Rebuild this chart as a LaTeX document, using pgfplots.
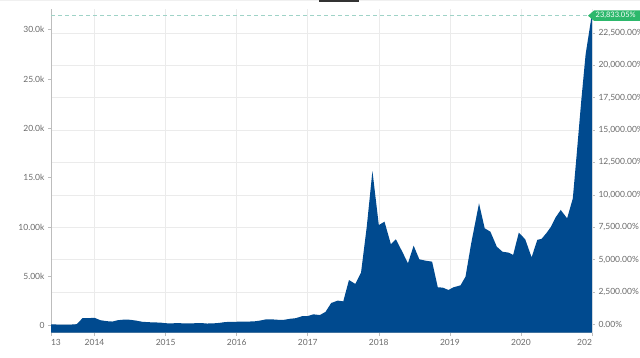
\documentclass[border=0pt]{standalone}
\usepackage{fontspec}
\setmainfont{Lato}
\usepackage{pgfplots}
\pgfplotsset{compat=1.18}
\definecolor{btcblue}{HTML}{004A8F}
\definecolor{tickgray}{HTML}{6B6B6B}
\definecolor{gridgray}{HTML}{EBEBEB}
\definecolor{axisgray}{HTML}{BDBDBD}
\definecolor{dashteal}{HTML}{9FD3C7}
\definecolor{labelgreen}{HTML}{2DB86C}
\pgfplotsset{
  common/.style={
    at={(51pt,24.3pt)}, anchor=south west, scale only axis,
    width=541pt, height=323.4pt,
    xmin=2013.387, xmax=2021.0,
    axis line style={axisgray, line width=0.6pt},
    tick style={axisgray, line width=0.6pt},
    major tick length=3pt, tick align=outside,
    tick label style={font=\fontsize{8.5}{10}\selectfont, text=tickgray},
    /pgf/number format/assume math mode=true,
    grid style={gridgray, line width=0.6pt},
  }
}
\begin{document}
\begin{tikzpicture}[x=1pt,y=1pt]
% top decoration
\fill[black!6] (0,356) rectangle (640,357);
\fill[black!80] (319,355.2) rectangle (359,357);
% right (percentage) axis with horizontal grid
\begin{axis}[common,
  ymin=-640.75, ymax=24325,
  axis x line=none, axis y line*=right,
  ytick={0,2500,5000,7500,10000,12500,15000,17500,20000,22500},
  yticklabels={{0.00\%},{2,500.00\%},{5,000.00\%},{7,500.00\%},{10,000.00\%},{12,500.00\%},{15,000.00\%},{17,500.00\%},{20,000.00\%},{22,500.00\%}},
  ymajorgrids,
]
\end{axis}
% main axis
\begin{axis}[common,
  ymin=-710, ymax=32070,
  axis x line*=bottom, axis y line*=left,
  xtick={2013.387,2014,2015,2016,2017,2018,2019,2020,2021},
  xticklabels={\makebox[0pt][l]{13},2014,2015,2016,2017,2018,2019,2020,\makebox[0pt][r]{202}},
  xmajorgrids,
  ytick={0,5000,10000,15000,20000,25000,30000},
  yticklabels={0,5.00k,10.00k,15.0k,20.0k,25.0k,30.0k},
]
\addplot[fill=btcblue, draw=none] coordinates {
(2013.387,-710) (2013.387,131) (2013.47,120) (2013.55,100) (2013.63,105) (2013.71,130) (2013.75,160)
(2013.83,760) (2013.92,770) (2014.00,800) (2014.08,560) (2014.17,460) (2014.25,420)
(2014.33,560) (2014.42,620) (2014.50,600) (2014.58,520) (2014.67,400) (2014.75,360)
(2014.83,330) (2014.92,320) (2015.00,250) (2015.08,240) (2015.17,260) (2015.25,240)
(2015.33,240) (2015.42,250) (2015.50,270) (2015.58,220) (2015.67,235) (2015.75,280)
(2015.83,360) (2015.92,400) (2016.00,400) (2016.08,410) (2016.17,420) (2016.25,440)
(2016.33,520) (2016.42,650) (2016.50,640) (2016.58,600) (2016.67,600) (2016.75,700)
(2016.83,760) (2016.92,960) (2017.00,980) (2017.08,1150) (2017.17,1080) (2017.25,1400)
(2017.33,2300) (2017.42,2540) (2017.50,2470) (2017.58,4630) (2017.67,4230) (2017.75,5400)
(2017.83,10000) (2017.91,15680) (2018.00,10200) (2018.08,10540) (2018.17,8250) (2018.24,8760)
(2018.33,7500) (2018.41,6320) (2018.49,8110) (2018.57,6730) (2018.65,6600) (2018.75,6490)
(2018.83,3890) (2018.90,3860) (2018.98,3620) (2019.05,3890) (2019.15,4090) (2019.22,4970)
(2019.30,8350) (2019.41,12400) (2019.49,9870) (2019.57,9530) (2019.66,8010) (2019.74,7500)
(2019.83,7400) (2019.89,7170) (2019.97,9430) (2020.06,8760) (2020.15,6930) (2020.23,8700)
(2020.29,8800) (2020.36,9400) (2020.42,10000) (2020.49,11000) (2020.56,11730) (2020.65,10880)
(2020.73,12900) (2020.78,17000) (2020.85,22900) (2020.91,27500) (2020.995,31420) (2021.0,31420)
(2021.0,-710)
};
\draw[dashteal, dash pattern=on 4pt off 3pt, line width=0.7pt]
  (axis cs:2013.387,31420) -- (axis cs:2020.94,31420);
\end{axis}
% value label
\fill[labelgreen] (588,341.3) -- (594,346.5) -- (650,346.5) -- (650,336.1) -- (594,336.1) -- cycle;
\node[font=\fontsize{7.5}{8}\selectfont, text=white, anchor=west, inner sep=0] at (595.5,341.3) {23,833.05\%};
\pgfresetboundingbox
\path[use as bounding box] (0,0) rectangle (640,357);
\end{tikzpicture}
\end{document}
